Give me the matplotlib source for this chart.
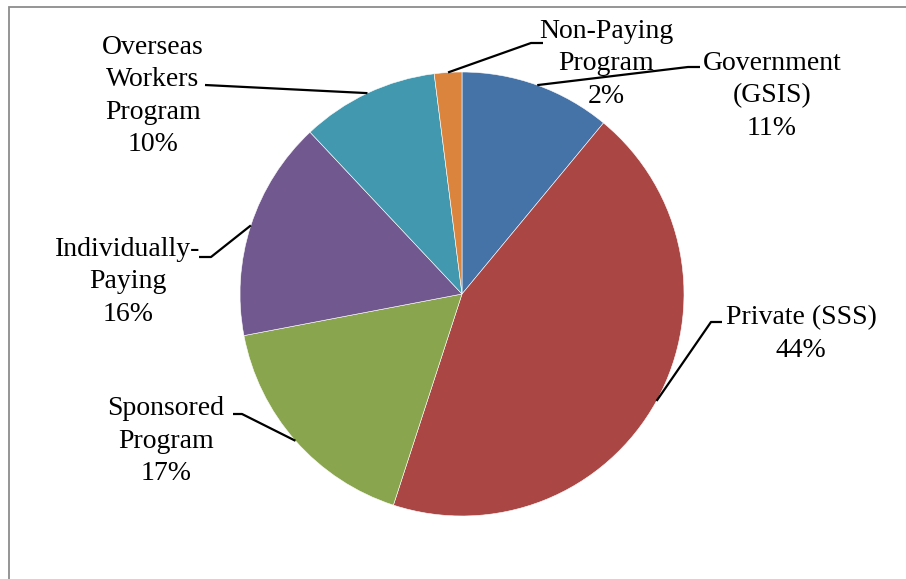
import numpy as np
import matplotlib.pyplot as plt
from matplotlib.patches import Rectangle

plt.rcParams['font.family'] = ['Liberation Serif', 'DejaVu Serif']

# data
labels = ['Government\n(GSIS)', 'Private (SSS)', 'Sponsored\nProgram',
          'Individually-\nPaying', 'Overseas\nWorkers\nProgram', 'Non-Paying\nProgram']
shares = [11, 44, 17, 16, 10, 2]
colors = ['#4572A7', '#AA4643', '#89A54E', '#71588F', '#4198AF', '#DB843D']

W, H = 906, 579
fig = plt.figure(figsize=(W / 100, H / 100), dpi=100)
ax = fig.add_axes([0, 0, 1, 1])

cx, cy, r = 462, H - 294, 222
wedges, _ = ax.pie(shares, colors=colors, startangle=90, counterclock=False,
                   center=(cx, cy), radius=r,
                   wedgeprops=dict(edgecolor='white', linewidth=0.4))

# label text centre, elbow point, end of horizontal stub (pixel coords, y down)
lab_pos = [(772, 96), (801, 334), (166, 441), (128, 282), (153, 96), (606, 64)]
elbows = [((688, 67), (700, 67)), ((711, 322), (722, 322)), ((242, 414), (233, 414)),
          ((211, 257), (199, 257)), ((205, 85), (205, 85)), ((531, 43), (543, 43))]

for w, lab, val, (tx, ty), (e1, e2) in zip(wedges, labels, shares, lab_pos, elbows):
    ang = np.deg2rad((w.theta1 + w.theta2) / 2)
    px, py = cx + r * np.cos(ang), cy + r * np.sin(ang)
    ax.plot([px, e1[0], e2[0]], [py, H - e1[1], H - e2[1]], color='black',
            lw=1.6, solid_capstyle='butt')
    ax.text(tx, H - ty, f'{lab}\n{val}%', ha='center', va='center',
            fontsize=20, linespacing=1.38, color='black')

ax.add_patch(Rectangle((9, -20), W + 20, H - 7 + 20, fill=False,
                       edgecolor='#8c8c8c', lw=1.3))

ax.set_xlim(0, W)
ax.set_ylim(0, H)
ax.set_aspect('equal')
ax.axis('off')

fig.savefig('out.png', dpi=100, facecolor='white')
